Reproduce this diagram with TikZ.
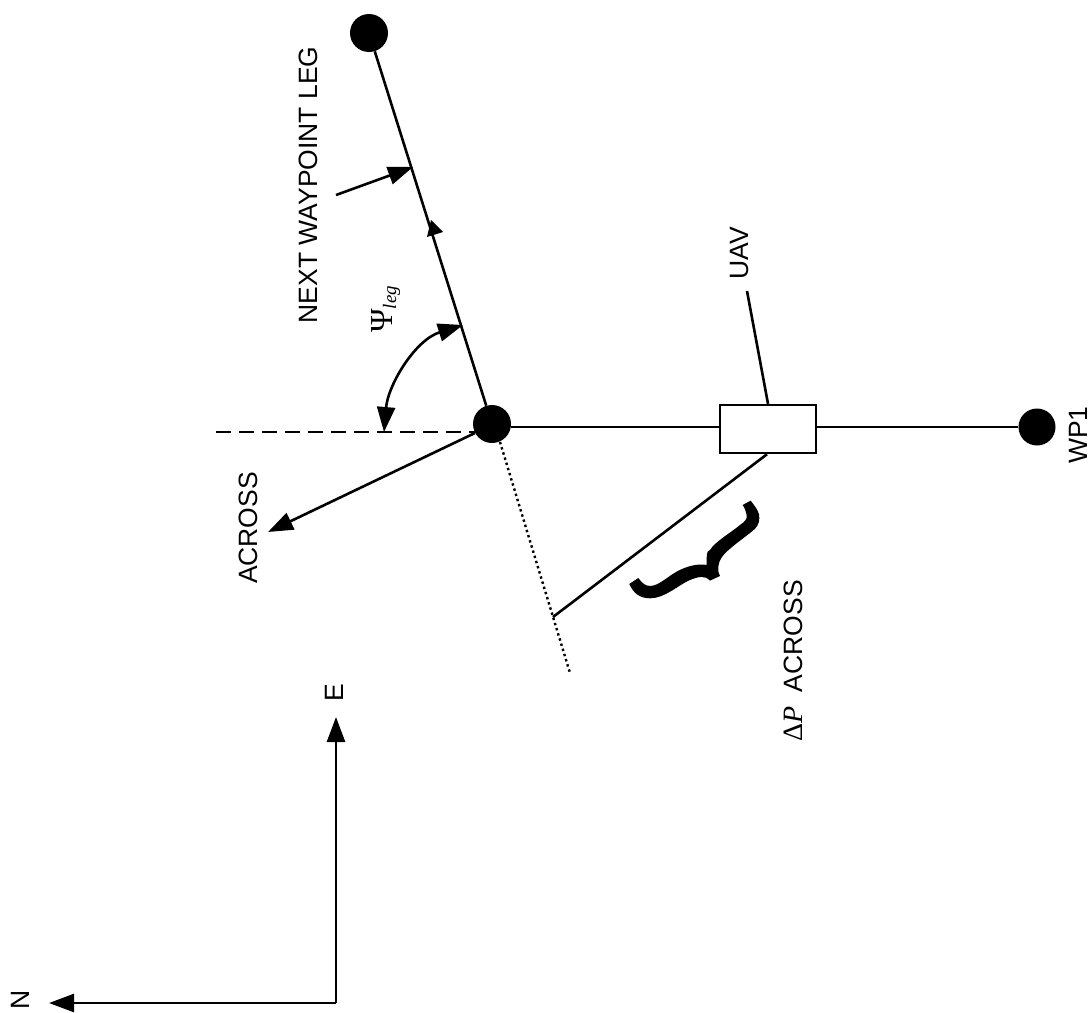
\documentclass[tikz,border=0pt]{standalone}
\usepackage{fontspec}
\setmainfont{Liberation Sans}
\newfontfamily\mathserif{Liberation Serif}
\usetikzlibrary{arrows.meta}
\tikzset{
  x=1pt,y=-1pt,
  wpt/.style={circle,fill=black,draw=none,inner sep=0pt},
  lab/.style={rotate=90,inner sep=0pt,font=\fontsize{26.5}{28}\selectfont},
  ln/.style={line width=2.6pt,black},
  tip/.style={-{Triangle[length=25pt,width=18pt]}},
  tipb/.style={{Triangle[length=25pt,width=18pt]}-{Triangle[length=25pt,width=18pt]}},
}
\begin{document}
\begin{tikzpicture}
\useasboundingbox (0,0) rectangle (1091,1012);
% waypoints and vehicle
\node[wpt,minimum size=38pt] (top) at (369,33) {};
\node[wpt,minimum size=38pt] (mid) at (492,424) {};
\node[wpt,minimum size=37pt] (wp1) at (1037,427) {};
\node[draw=black,line width=2.4pt,fill=white,minimum width=96pt,minimum height=48pt,inner sep=0pt] (uav) at (768,429) {};
% free ends
\coordinate (dashend) at (216,432);
\coordinate (dashin) at (476,432);
\coordinate (acrossout) at (475,433);
\coordinate (acrosstip) at (268,532);
\coordinate (dotstart) at (500,442);
\coordinate (dotend) at (570,673);
\coordinate (foot) at (553,617);
\coordinate (uavlead) at (747,291);
\coordinate (legarrowfrom) at (336,195);
\coordinate (legarrowto) at (413,167);
\coordinate (arcnorth) at (384,432);
\coordinate (arcleg) at (463,325);
\coordinate (corner) at (336,1003);
\coordinate (etip) at (336,717);
\coordinate (ntip) at (49,1003);
% connectors
\draw[ln] (mid) -- (top);
\draw[ln] (mid.east |- 0,427) -- (uav.west |- 0,427);
\draw[ln] (uav.east |- 0,427) -- (wp1);
\draw[ln] (uav.south) ++(-1,0) -- (foot);
\draw[ln] (uav.north) -- (uavlead);
\draw[line width=2.2pt,dash pattern=on 15pt off 8pt] (dashend) -- (dashin);
\draw[line width=2.4pt,dash pattern=on 2.4pt off 3pt] (dotstart) -- (dotend);
\draw[ln,tip] (acrossout) -- (acrosstip);
\draw[ln,tip] (legarrowfrom) -- (legarrowto);
\draw[ln,tipb] (arcnorth) .. controls (388,385) and (415,340) .. (arcleg);
\draw[ln,tip] (corner) -- (etip);
\draw[ln,tip] (corner) -- (ntip);
% direction marker on the leg
\fill (431,220) -- (443,232) -- (427,237) -- cycle;
% brace
\begin{scope}[shift={(600,350)},x=0.3333pt,y=-0.3333pt]
\fill (428,465) -- (452,452)
  .. controls (470,475) and (480,490) .. (478,505)
  .. controls (478,520) and (470,535) .. (455,545)
  .. controls (430,565) and (395,590) .. (375,610)
  .. controls (360,625) and (352,645) .. (355,665)
  -- (360,678) -- (330,692)
  .. controls (315,675) and (295,680) .. (270,690)
  .. controls (235,705) and (195,745) .. (150,745)
  .. controls (120,745) and (100,730) .. (88,702)
  -- (115,684)
  .. controls (125,698) and (135,708) .. (150,708)
  .. controls (175,708) and (200,682) .. (230,665)
  .. controls (260,648) and (295,640) .. (320,645)
  .. controls (320,625) and (318,600) .. (330,600)
  .. controls (345,575) and (390,550) .. (420,525)
  .. controls (435,515) and (443,505) .. (440,495)
  .. controls (438,485) and (435,475) .. (428,465) -- cycle;
\end{scope}
% labels
\node[lab] (t1) at (308,185) {NEXT WAYPOINT LEG};
\node[lab] (t2) at (248,528) {ACROSS};
\node[lab] (t3) at (740,253) {UAV};
\node[lab] (t4) at (1078,435) {WP1};
\node[lab] (t5) at (793,661) {{\mathserif\fontsize{28}{30}\selectfont Δ\itshape P}\ \ ACROSS};
\node[lab] (t7) at (334,693) {E};
\node[lab] (t8) at (20,1000) {N};
\node[rotate=90,inner sep=0pt,anchor=base west] (t9) at (392,333) {{\mathserif\fontsize{32}{34}\selectfont Ψ}\raisebox{-4pt}{\mathserif\itshape\fontsize{19}{20}\selectfont leg}};
\end{tikzpicture}
\end{document}
